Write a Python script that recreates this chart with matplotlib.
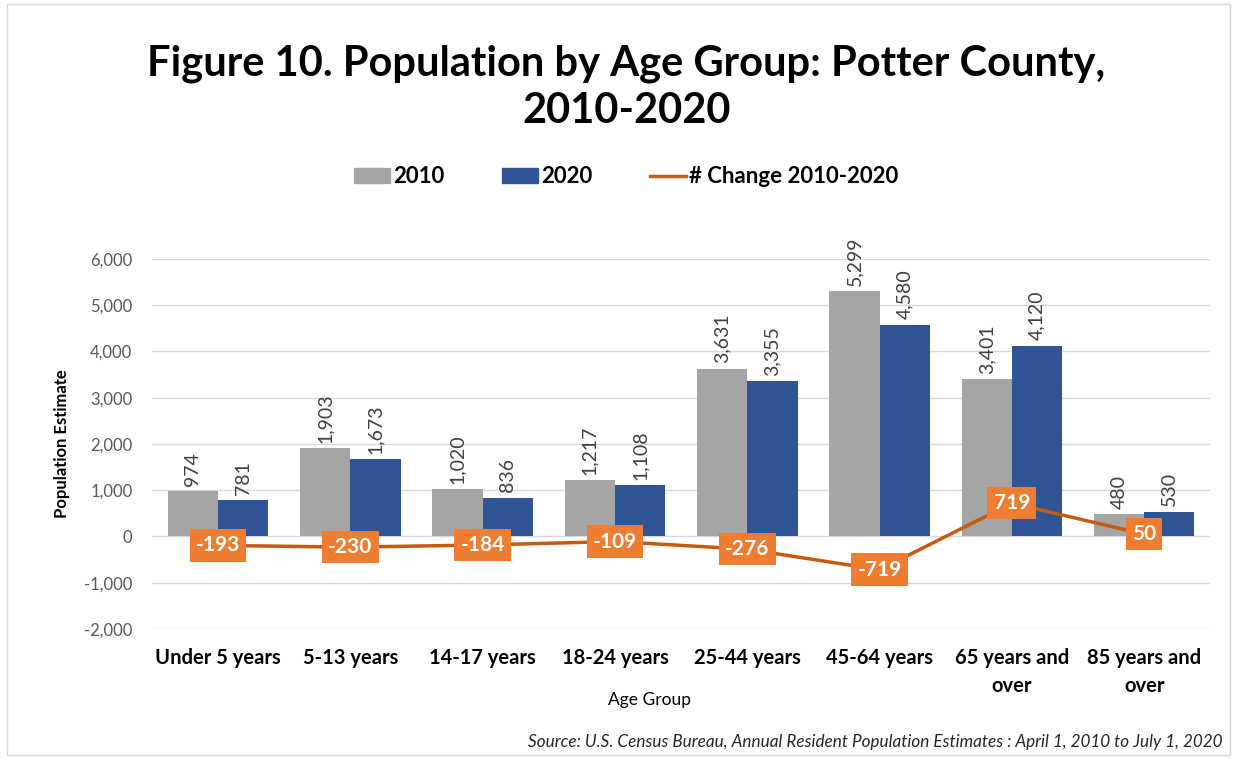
import matplotlib.pyplot as plt
from matplotlib.patches import Rectangle
from matplotlib.lines import Line2D
from matplotlib.ticker import FuncFormatter

# data
age_groups = ['Under 5 years', '5-13 years', '14-17 years', '18-24 years',
              '25-44 years', '45-64 years', '65 years and\nover', '85 years and\nover']
pop_2010 = [974, 1903, 1020, 1217, 3631, 5299, 3401, 480]
pop_2020 = [781, 1673, 836, 1108, 3355, 4580, 4120, 530]
change = [-193, -230, -184, -109, -276, -719, 719, 50]

GRAY = '#A5A5A5'
BLUE = '#2F5597'
LINE = '#C55A11'
BOX = '#ED7D31'

plt.rcParams['font.family'] = ['Lato', 'DejaVu Sans']

fig = plt.figure(figsize=(12.35, 7.59), dpi=100)
ax = fig.add_axes([0.123, 0.1713, 0.857, 0.4875])

x = list(range(len(age_groups)))
w = 0.38
x1 = [i - w / 2 for i in x]
x2 = [i + w / 2 for i in x]
b1 = ax.bar(x1, pop_2010, w, color=GRAY, zorder=2)
b2 = ax.bar(x2, pop_2020, w, color=BLUE, zorder=2)

for bars, vals in ((b1, pop_2010), (b2, pop_2020)):
    for r, v in zip(bars, vals):
        ax.annotate(f'{v:,}', (r.get_x() + r.get_width() / 2, v),
                    xytext=(0, 4), textcoords='offset points',
                    rotation=90, ha='center', va='bottom',
                    fontsize=14, color='#404040')

ax.plot(x, change, color=LINE, lw=2.5, zorder=3)
for xi, v in zip(x, change):
    ax.text(xi, v, f'{v:,}', ha='center', va='center', fontsize=15,
            fontweight='bold', color='white', zorder=4,
            bbox=dict(boxstyle='square,pad=0.3', fc=BOX, ec='none'))

ax.set_xlim(-0.5, len(age_groups) - 0.5)
ax.set_ylim(-2000, 6000)
ax.set_yticks(range(-2000, 6001, 1000))
ax.yaxis.set_major_formatter(FuncFormatter(lambda v, p: f'{int(v):,}'))
ax.grid(axis='y', color='#D9D9D9', lw=1, zorder=0)
for s in ax.spines.values():
    s.set_visible(False)
ax.tick_params(axis='y', length=0, labelsize=12, labelcolor='#595959', pad=14)
ax.tick_params(axis='x', length=0, labelsize=14.5, pad=14)
ax.set_xticks(x)
ax.set_xticklabels(age_groups, fontweight='bold', linespacing=1.45)
ax.set_ylabel('Population Estimate', fontsize=12, fontweight='bold', labelpad=10)
fig.text(0.526, 0.0777, 'Age Group', ha='center', va='center', fontsize=12.5)

fig.text(0.507, 0.885, 'Figure 10. Population by Age Group: Potter County,\n2010-2020',
         ha='center', va='center', fontsize=30, fontweight='bold', linespacing=1.3)

handles = [Rectangle((0, 0), 1, 1, color=GRAY), Rectangle((0, 0), 1, 1, color=BLUE),
           Line2D([0], [0], color=LINE, lw=2.5)]
fig.legend(handles, ['2010', '2020', '# Change 2010-2020'], loc='center',
           bbox_to_anchor=(0.507, 0.767), ncol=3, frameon=False,
           prop={'size': 16, 'weight': 'bold'}, handlelength=1.6,
           handletextpad=0.15, columnspacing=2.6)

fig.text(0.99, 0.022, 'Source: U.S. Census Bureau, Annual Resident Population Estimates : April 1, 2010 to July 1, 2020',
         ha='right', va='center', fontsize=12.3, style='italic', color='#262626')

fig.patches.append(Rectangle((0.006, 0.005), 0.99, 0.99, transform=fig.transFigure,
                             fill=False, ec='#D9D9D9', lw=1))

fig.savefig('out.png', dpi=100)
